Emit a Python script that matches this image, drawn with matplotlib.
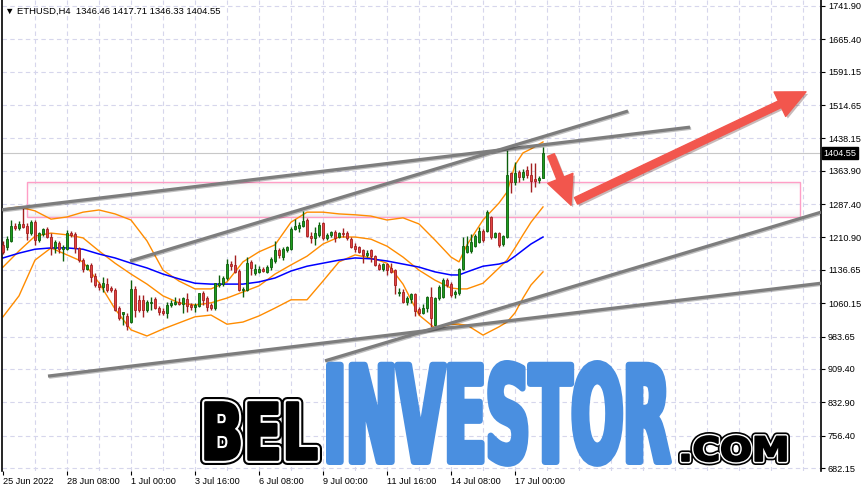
import numpy as np
import matplotlib
matplotlib.use("Agg")
import matplotlib.pyplot as plt
import matplotlib.colors as mcolors
import matplotlib.patheffects as pe
import matplotlib.transforms as mtransforms
from matplotlib.patches import Rectangle
from matplotlib.textpath import TextPath
from matplotlib.font_manager import FontProperties

W, H, DPI = 866, 492, 100

HEADER = "\u25bc ETHUSD,H4  1346.46 1417.71 1346.33 1404.55"
LAST_PRICE = 1404.55

# H4 candles, 25 Jun 2022 16:00 .. 18 Jul 2022 04:00
opens = [
    1194, 1189, 1203, 1237, 1233, 1242, 1237, 1221, 1246, 1205,
    1219, 1230, 1212, 1187, 1198, 1185, 1185, 1221, 1219, 1187,
    1159, 1139, 1148, 1123, 1104, 1097, 1104, 1095, 1090, 1049,
    1035, 1031, 1017, 1093, 1068, 1068, 1045, 1061, 1070, 1049,
    1042, 1038, 1056, 1058, 1063, 1058, 1070, 1056, 1051, 1054,
    1084, 1072, 1056, 1049, 1102, 1104, 1118, 1150, 1148, 1134,
    1090, 1090, 1155, 1129, 1132, 1139, 1132, 1143, 1157, 1182,
    1166, 1182, 1185, 1230, 1233, 1237, 1251, 1214, 1210, 1217,
    1244, 1210, 1217, 1224, 1212, 1221, 1221, 1207, 1191, 1189,
    1182, 1171, 1182, 1168, 1148, 1139, 1150, 1141, 1136, 1084,
    1086, 1063, 1070, 1081, 1047, 1038, 1049, 1074, 1010, 1072,
    1074, 1113, 1104, 1081, 1084, 1139, 1178, 1180, 1191, 1201,
    1226, 1226, 1258, 1212, 1221, 1196, 1212, 1359, 1338, 1361,
    1350, 1366, 1354, 1345, 1343, 1346.46,
]
highs = [
    1203, 1214, 1251, 1244, 1249, 1279, 1244, 1251, 1251, 1224,
    1233, 1235, 1221, 1205, 1203, 1194, 1228, 1226, 1224, 1189,
    1164, 1150, 1152, 1129, 1109, 1120, 1118, 1100, 1095, 1054,
    1040, 1038, 1113, 1100, 1079, 1079, 1068, 1074, 1074, 1054,
    1049, 1063, 1068, 1074, 1072, 1074, 1084, 1061, 1061, 1084,
    1088, 1077, 1061, 1107, 1125, 1123, 1162, 1157, 1171, 1139,
    1097, 1166, 1159, 1150, 1146, 1143, 1148, 1166, 1203, 1187,
    1189, 1191, 1235, 1253, 1246, 1272, 1256, 1224, 1235, 1246,
    1246, 1221, 1226, 1228, 1224, 1233, 1226, 1212, 1198, 1191,
    1185, 1182, 1185, 1171, 1152, 1152, 1152, 1152, 1139, 1095,
    1093, 1077, 1084, 1084, 1051, 1058, 1077, 1097, 1074, 1102,
    1118, 1118, 1109, 1090, 1141, 1212, 1214, 1219, 1219, 1235,
    1230, 1274, 1260, 1224, 1224, 1217, 1412, 1361, 1384, 1366,
    1368, 1375, 1382, 1382, 1352, 1417.71,
]
lows = [
    1173, 1182, 1201, 1228, 1228, 1233, 1205, 1217, 1194, 1201,
    1214, 1210, 1171, 1175, 1175, 1157, 1182, 1212, 1175, 1155,
    1132, 1136, 1109, 1097, 1090, 1086, 1086, 1086, 1042, 1022,
    1010, 999, 1015, 1029, 1040, 1029, 1040, 1045, 1047, 1033,
    1033, 1026, 1051, 1056, 1056, 1038, 1040, 1045, 1040, 1051,
    1056, 1042, 1045, 1045, 1097, 1100, 1113, 1136, 1129, 1088,
    1074, 1088, 1125, 1125, 1129, 1132, 1129, 1136, 1152, 1164,
    1159, 1178, 1182, 1228, 1224, 1235, 1212, 1198, 1194, 1212,
    1205, 1205, 1212, 1201, 1210, 1212, 1205, 1187, 1178, 1175,
    1152, 1166, 1155, 1146, 1136, 1134, 1125, 1129, 1081, 1077,
    1061, 1056, 1061, 1031, 1033, 1035, 1040, 1006, 1006, 1068,
    1072, 1097, 1074, 1072, 1079, 1136, 1175, 1175, 1189, 1198,
    1201, 1224, 1207, 1210, 1189, 1191, 1210, 1313, 1331, 1338,
    1343, 1347, 1315, 1327, 1336, 1346.33,
]
closes = [
    1178, 1207, 1237, 1233, 1242, 1235, 1221, 1246, 1205, 1221,
    1230, 1212, 1187, 1201, 1185, 1189, 1221, 1217, 1187, 1159,
    1139, 1148, 1120, 1102, 1097, 1107, 1090, 1090, 1045, 1026,
    1040, 1008, 1093, 1045, 1045, 1045, 1063, 1063, 1049, 1040,
    1038, 1056, 1061, 1063, 1058, 1072, 1054, 1051, 1056, 1084,
    1068, 1051, 1049, 1107, 1107, 1118, 1150, 1146, 1132, 1090,
    1093, 1152, 1141, 1139, 1139, 1134, 1143, 1162, 1182, 1171,
    1185, 1189, 1230, 1237, 1240, 1249, 1214, 1210, 1221, 1240,
    1210, 1217, 1224, 1210, 1221, 1219, 1210, 1189, 1185, 1178,
    1171, 1175, 1168, 1148, 1139, 1150, 1136, 1132, 1102, 1086,
    1063, 1072, 1081, 1042, 1038, 1049, 1074, 1026, 1072, 1097,
    1113, 1102, 1079, 1086, 1139, 1191, 1191, 1201, 1214, 1226,
    1205, 1269, 1212, 1221, 1194, 1214, 1354, 1338, 1359, 1350,
    1361, 1354, 1340, 1340, 1347, 1404.55,
]

# indicator readings (bar index -> price)
ind_idx = [0, 4, 8, 12, 16, 20, 24, 28, 32, 36, 40, 44, 48, 52, 56, 60, 64, 68, 72,
           76, 80, 84, 88, 92, 96, 100, 104, 108, 112, 114, 116, 120, 124, 126, 128,
           130, 132, 135]
bb_upper = [1276, 1281, 1272, 1253, 1258, 1269, 1274, 1265, 1251, 1203, 1136, 1111,
            1093, 1093, 1109, 1155, 1178, 1194, 1246, 1269, 1269, 1265, 1263, 1260,
            1251, 1256, 1242, 1205, 1166, 1155, 1194, 1251, 1290, 1315, 1377, 1405,
            1414, 1430]
bb_middle = [1143, 1180, 1214, 1221, 1217, 1210, 1180, 1152, 1127, 1104, 1077, 1061,
             1056, 1061, 1072, 1086, 1100, 1127, 1148, 1168, 1196, 1212, 1212, 1207,
             1191, 1166, 1136, 1113, 1095, 1093, 1093, 1106, 1141, 1159, 1187, 1217,
             1246, 1281]
bb_lower = [1029, 1077, 1159, 1187, 1171, 1155, 1107, 1047, 999, 985, 1001, 1015,
            1029, 1033, 1012, 1017, 1031, 1049, 1068, 1068, 1111, 1155, 1171, 1164,
            1152, 1104, 1033, 1003, 1012, 1012, 1010, 987, 1006, 1017, 1038, 1072,
            1102, 1132]
ma_slow = [1164, 1175, 1184, 1187, 1187, 1184, 1173, 1164, 1152, 1141, 1127, 1116,
           1106, 1104, 1104, 1104, 1109, 1118, 1134, 1145, 1152, 1159, 1164, 1162,
           1157, 1150, 1143, 1132, 1125, 1125, 1132, 1145, 1150, 1155, 1168, 1182,
           1196, 1212]

# drawn objects (bar index, price)
trend_lines = [
    ((-0.75, 1274), (171.75, 1464)),
    ((31.75, 1157), (156.25, 1501)),
    ((11.25, 893), (204.5, 1106)),
    ((80.5, 928), (204.5, 1269)),
]
zone_idx = (6.0, 199.25)
zone_price = (1258, 1338)
forecast_idx = [137.0, 142.0, 143.25, 200.75]
forecast_price = [1400, 1285, 1295, 1545]

y_ticks = [1741.90, 1665.40, 1591.15, 1514.65, 1438.15, 1363.90, 1287.40, 1210.90,
           1136.65, 1060.15, 983.65, 909.40, 832.90, 756.40, 682.15]
x_tick_idx = [0, 16, 32, 48, 64, 80, 96, 112, 128]
x_tick_labels = ["25 Jun 2022", "28 Jun 08:00", "1 Jul 00:00", "3 Jul 16:00",
                 "6 Jul 08:00", "9 Jul 00:00", "11 Jul 16:00", "14 Jul 08:00",
                 "17 Jul 00:00"]

FONT = ["Liberation Sans", "DejaVu Sans"]
plt.rcParams["font.family"] = FONT

GREEN, GREEN_EDGE = "#1f9d1f", "#0b5e0b"
RED, RED_EDGE = "#e34444", "#a32020"
ORANGE = "#ff8c00"
GRID = "#d6d6ec"
BLUE_WM = "#4a8fe0"
WM_FONT = FontProperties(family="DejaVu Sans", weight="bold")


class Stretch(pe.AbstractPathEffect):
    """Re-map a text path from its baseline anchor into a target box, drawn in layers."""

    def __init__(self, sx, sy, anchor, layers):
        super().__init__()
        self.sx, self.sy, self.anchor, self.layers = sx, sy, anchor, layers

    def draw_path(self, renderer, gc, tpath, affine, rgbFace=None):
        bx, by = affine.transform((0.0, 0.0))
        aff = affine + (mtransforms.Affine2D().translate(-bx, -by)
                        .scale(self.sx, self.sy).translate(*self.anchor))
        for face, edge, lw in self.layers:
            gc0 = renderer.new_gc()
            gc0.copy_properties(gc)
            gc0.set_joinstyle("round")
            if lw > 0:
                gc0.set_foreground(edge)
                gc0.set_linewidth(lw)
            else:
                gc0.set_linewidth(0)
            renderer.draw_path(gc0, tpath, aff, None if face is None else mcolors.to_rgb(face))
            gc0.restore()


def watermark_word(fig, s, box, layers):
    """Place text s so its ink fills box = (left, right, top, baseline) in image px."""
    left, right, top, base = box
    k = DPI / 72
    grow = max(lw for _, _, lw in layers) * k / 2
    ref = TextPath((0, 0), s, size=100, prop=WM_FONT).get_extents()
    target_w = right - left - 2 * grow
    size = 100 * 0.95 * target_w / (ref.width * k)
    ink_w = ref.width * k * size / 100
    ink_x0 = ref.x0 * k * size / 100
    cap = ref.y1 * k * size / 100
    sx = target_w / ink_w
    sy = (base - top - 2 * grow) / cap
    anchor = (left + grow - ink_x0 * sx, (H - base) + grow)
    natural_base = base - 0.24 * size * k
    t = fig.text(left / W, 1 - natural_base / H, s, fontproperties=WM_FONT,
                 fontsize=size, ha="left", va="baseline", zorder=20)
    t.set_path_effects([Stretch(sx, sy, anchor, layers)])
    return t


fig = plt.figure(figsize=(W / DPI, H / DPI), dpi=DPI)
ax = fig.add_axes([2 / W, 21 / H, 819 / W, 471 / H])

# grid
for yv in y_ticks:
    ax.axhline(yv, color=GRID, lw=0.8, ls=(0, (4, 3)), zorder=0)
for xv in range(8, 205, 8):
    ax.axvline(xv, color=GRID, lw=0.8, ls=(0, (4, 3)), zorder=0)
ax.axhline(LAST_PRICE, color="#c8c8c8", lw=0.8, zorder=0.5)

# support / resistance zone with a soft inner shade along its edges
zx0, zx1 = zone_idx
zp0, zp1 = zone_price
shade = np.abs(np.linspace(-1, 1, 60)) ** 6
shade_rgba = np.zeros((60, 1, 4))
shade_rgba[..., :3] = 0.55
shade_rgba[:, 0, 3] = 0.18 * shade
ax.imshow(shade_rgba, extent=(zx0, zx1, zp0, zp1), aspect="auto",
          interpolation="bilinear", zorder=0.55)
ax.add_patch(Rectangle((zx0, zp0), zx1 - zx0, zp1 - zp0, facecolor="none",
                       edgecolor="#ff9ec6", lw=1.0, zorder=0.6))

# indicators
ax.plot(ind_idx, bb_upper, color=ORANGE, lw=1.0, zorder=2)
ax.plot(ind_idx, bb_middle, color=ORANGE, lw=1.0, zorder=2)
ax.plot(ind_idx, bb_lower, color=ORANGE, lw=1.0, zorder=2)
ax.plot(ind_idx, ma_slow, color="#0000ff", lw=1.1, zorder=2)

# candles
o, h, l, c = (np.array(a, dtype=float) for a in (opens, highs, lows, closes))
idx = np.arange(len(o))
up = c >= o
dn = ~up
ax.vlines(idx[up], l[up], h[up], color=GREEN_EDGE, lw=1.0, zorder=3)
ax.vlines(idx[dn], l[dn], h[dn], color=RED_EDGE, lw=1.0, zorder=3)
ax.bar(idx[up], c[up] - o[up], bottom=o[up], width=0.7, color=GREEN,
       edgecolor=GREEN_EDGE, lw=0.6, zorder=4)
ax.bar(idx[dn], o[dn] - c[dn], bottom=c[dn], width=0.7, color=RED,
       edgecolor=RED_EDGE, lw=0.6, zorder=4)

# trend lines
for (x0, p0), (x1, p1) in trend_lines:
    ax.plot([x0, x1], [p0, p1], color="#7d7d7d", lw=2.3, solid_capstyle="butt", zorder=5,
            path_effects=[pe.SimpleLineShadow(offset=(0.8, -0.8), alpha=0.25), pe.Normal()])

# forecast arrows
arrow_kw = dict(arrowstyle="simple,head_width=0.75,head_length=0.8,tail_width=0.2",
                mutation_scale=26, color="#f2564d", shrinkA=0, shrinkB=0)
for a, b in ((0, 1), (2, 3)):
    ax.annotate("", xy=(forecast_idx[b], forecast_price[b]),
                xytext=(forecast_idx[a], forecast_price[a]),
                arrowprops=dict(arrow_kw, path_effects=[
                    pe.SimplePatchShadow(offset=(1.5, -1.5), alpha=0.3), pe.Normal()]),
                zorder=6)

ax.set_xlim(-0.25, 204.5)
ax.set_ylim(675.3, 1755.66)

# axes styling
for side in ("top", "bottom"):
    ax.spines[side].set_visible(False)
ax.spines["left"].set_linewidth(1.2)
ax.spines["right"].set_linewidth(1.2)
ax.yaxis.tick_right()
ax.set_yticks(y_ticks)
ax.set_yticklabels([f"{v:.2f}" for v in y_ticks])
ax.tick_params(axis="y", direction="out", length=3, width=0.8, pad=2, labelsize=6.6)
ax.set_xticks(x_tick_idx)
ax.set_xticklabels(x_tick_labels, ha="left")
ax.tick_params(axis="x", direction="out", length=3, width=0.8, pad=1.5, labelsize=6.6)

ax.text(1.003, LAST_PRICE, f"{LAST_PRICE:.2f}",
        transform=mtransforms.blended_transform_factory(ax.transAxes, ax.transData),
        ha="left", va="center", fontsize=6.6, color="white", zorder=10, clip_on=False,
        bbox=dict(boxstyle="square,pad=0.2", facecolor="black", edgecolor="black"))

fig.text(5 / W, 1 - 11 / H, HEADER, fontsize=6.8, ha="left", va="center", family=FONT)

# watermark
watermark_word(fig, "BEL", (200, 322, 397, 465),
               [(None, "black", 8.0), (None, "white", 5.0), ("black", "black", 2.0)])
watermark_word(fig, "INVESTOR", (326, 672, 360, 465),
               [(BLUE_WM, BLUE_WM, 4.5)])
watermark_word(fig, ".COM", (678, 790, 432, 465),
               [(None, "black", 6.0), (None, "white", 3.6), ("black", "black", 1.5)])

fig.savefig("out.png", dpi=DPI)
